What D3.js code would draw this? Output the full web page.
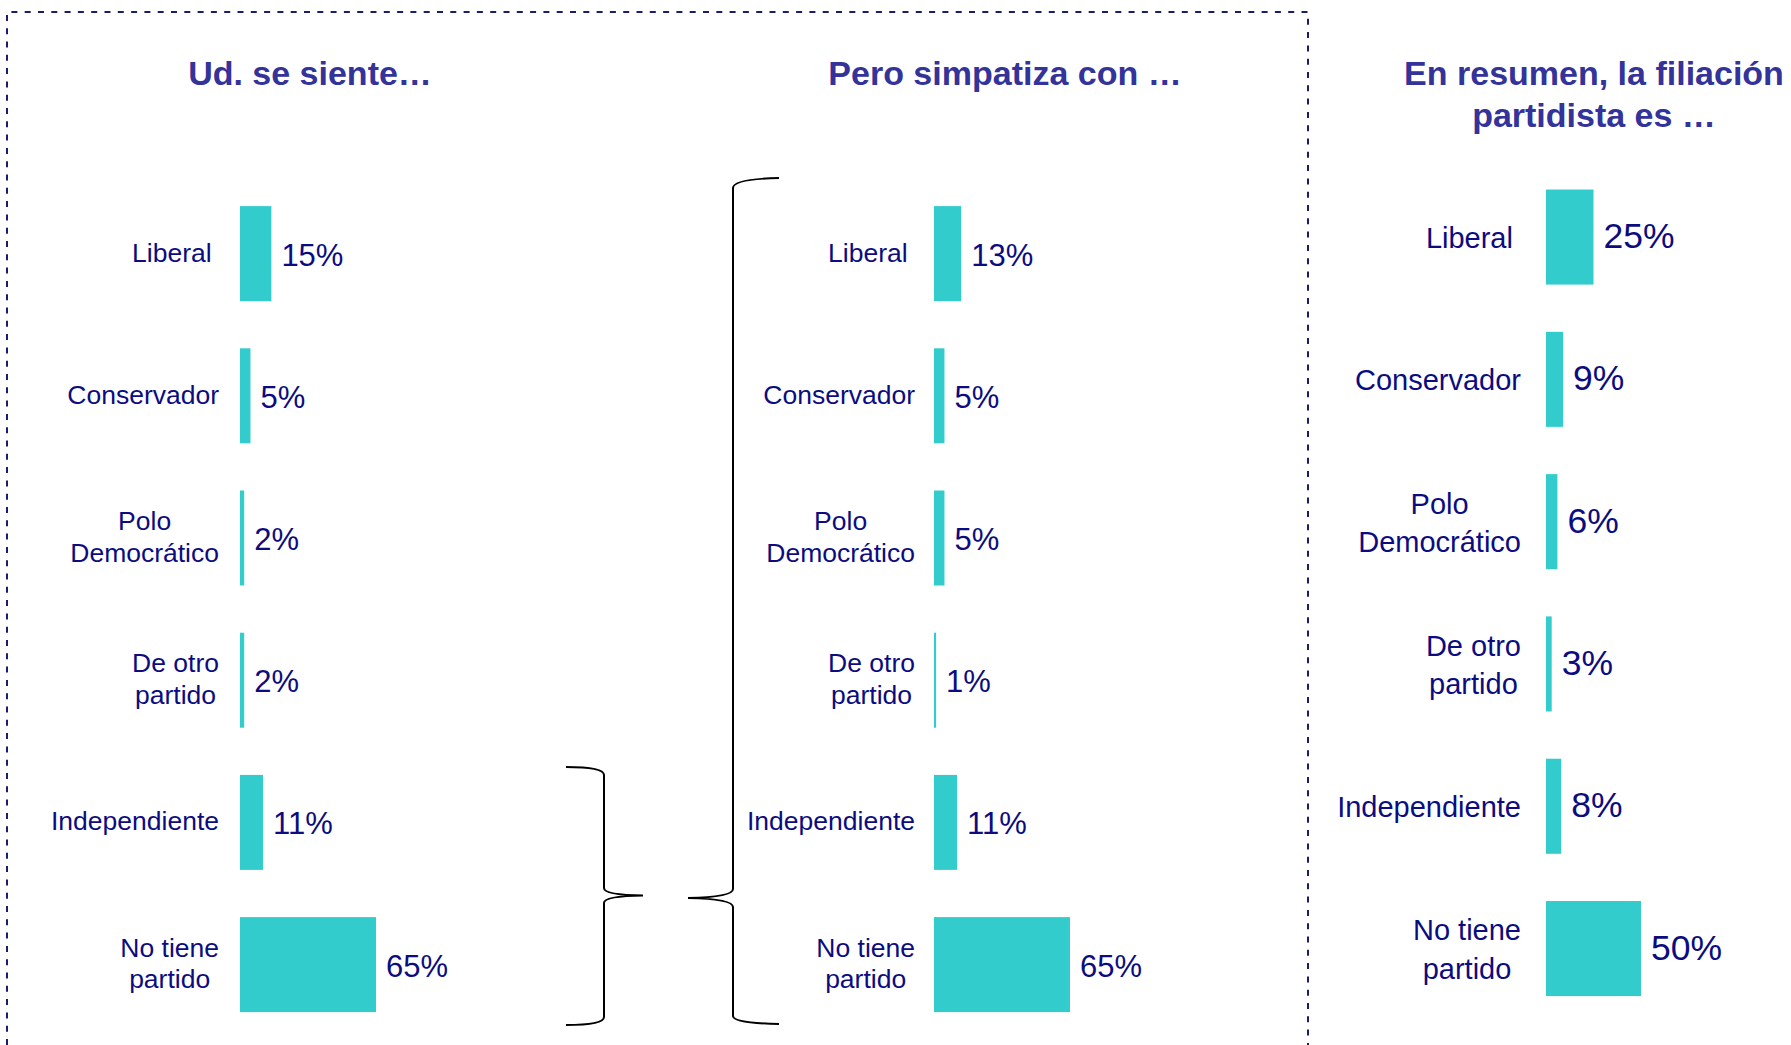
<!DOCTYPE html>
<html>
<head>
<meta charset="utf-8">
<script src="https://cdn.jsdelivr.net/npm/d3@7"></script>
<style>
  html, body { margin: 0; padding: 0; background: #fff; }
  svg { display: block; font-family: "Liberation Sans", Arial, sans-serif; }
</style>
</head>
<body>
<svg id="chart" width="1791" height="1045"></svg>
<script>
"use strict";

// ---- data
const categories = ["Liberal", "Conservador", "Polo Democrático", "De otro partido", "Independiente", "No tiene partido"];
const categoryLines = [["Liberal\u00a0"], ["Conservador"], ["Polo", "Democrático"], ["De otro", "partido"], ["Independiente"], ["No tiene", "partido"]];
const sienteValues = [15, 5, 2, 2, 11, 65];
const simpatizaValues = [13, 5, 5, 1, 11, 65];
const resumenValues = [25, 9, 6, 3, 8, 50];
const panelTitles = [["Ud. se siente…"], ["Pero simpatiza con …"], ["En resumen, la filiación", "partidista es …"]];

const BAR = "#33cccc", NAVY = "#0c0c80", TITLE = "#333399";

const svg = d3.select("#chart");
svg.append("rect").attr("width", 1791).attr("height", 1045).attr("fill", "#fff");

// ---- dashed frame round the first two panels (bottom edge runs off the page)
svg.append("path")
  .attr("d", "M7,1045 V12 H1308 V1045")
  .attr("fill", "none").attr("stroke", "#1c1c6c").attr("stroke-width", 2)
  .attr("stroke-dasharray", "6,7.3");

// ---- panels
const panels = [
  {values: sienteValues,    title: panelTitles[0], titleX: 310,  barX: 240,  px100: 209.2, labelRight: 219,  y0: 182.5, y1: 1035.7, labelSize: 26.5, lineH: 31.7, labelDy: 8,  valueSize: 31,   valueDy: 12},
  {values: simpatizaValues, title: panelTitles[1], titleX: 1005, barX: 934,  px100: 209.2, labelRight: 915,  y0: 182.5, y1: 1035.7, labelSize: 26.5, lineH: 31.7, labelDy: 8,  valueSize: 31,   valueDy: 12},
  {values: resumenValues,   title: panelTitles[2], titleX: 1594, barX: 1546, px100: 190,   labelRight: 1521, y0: 165.9, y1: 1019.7, labelSize: 29,   lineH: 38.3, labelDy: 11, valueSize: 35.5, valueDy: 11}
];

panels.forEach(p => {
  const g = svg.append("g");
  const y = d3.scaleBand().domain(categories).range([p.y0, p.y1]).paddingInner(0.332).paddingOuter(0.166);
  const x = d3.scaleLinear().domain([0, 100]).range([p.barX, p.barX + p.px100]);
  const rows = categories.map((c, i) => ({cat: c, lines: categoryLines[i], v: p.values[i]}));

  // title
  g.selectAll("text.title").data(p.title).enter().append("text")
    .attr("class", "title")
    .attr("x", p.titleX).attr("y", (d, i) => 85 + i * 42)
    .attr("text-anchor", "middle").attr("fill", TITLE)
    .style("font-size", "34px").style("font-weight", "700")
    .text(d => d);

  // bars
  g.selectAll("rect.bar").data(rows).enter().append("rect")
    .attr("class", "bar")
    .attr("x", x(0)).attr("y", d => y(d.cat))
    .attr("width", d => x(d.v) - x(0)).attr("height", y.bandwidth())
    .attr("fill", BAR);

  // value labels
  g.selectAll("text.val").data(rows).enter().append("text")
    .attr("class", "val")
    .attr("x", d => x(d.v) + 10)
    .attr("y", d => y(d.cat) + y.bandwidth() / 2 + p.valueDy)
    .attr("fill", NAVY).style("font-size", p.valueSize + "px")
    .text(d => d.v + "%");

  // category labels: block right-aligned, lines centred inside the block
  rows.forEach(r => {
    const cy = y(r.cat) + y.bandwidth() / 2;
    const n = r.lines.length;
    const t = g.selectAll(null).data(r.lines).enter().append("text")
      .attr("y", (d, i) => cy + (i - (n - 1) / 2) * p.lineH + p.labelDy)
      .attr("text-anchor", "middle").attr("fill", NAVY)
      .style("font-size", p.labelSize + "px")
      .text(d => d);
    let w = 0;
    t.each(function() { w = Math.max(w, this.getComputedTextLength()); });
    t.attr("x", p.labelRight - w / 2);
  });
});

// ---- braces between the panels
const brace = svg.append("g").attr("fill", "none").attr("stroke", "#000").attr("stroke-width", 2);
brace.append("path")
  .attr("d", "M566,767 Q604,767 604,775 V888 Q604,895 643,895.5 Q604,896 604,903 V1017 Q604,1025 566,1025");
brace.append("path")
  .attr("d", "M779,178 Q733,179 733,188 V889 Q733,897 688,898 Q733,899 733,907 V1016 Q733,1023 779,1024");
</script>
</body>
</html>
